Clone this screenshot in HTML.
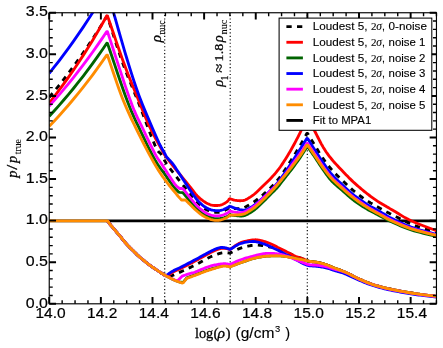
<!DOCTYPE html>
<html><head><meta charset="utf-8"><title>plot</title>
<style>html,body{margin:0;padding:0;background:#fff}svg{display:block;will-change:transform}text{font-family:"Liberation Sans",sans-serif;fill:#000;stroke:#000;stroke-width:0.12px}.s{font-family:"Liberation Serif",serif;stroke:#000;stroke-width:0.28px}.t{stroke:#000;stroke-width:0.2px}.u{stroke-width:0.1px}</style></head><body>
<svg width="443" height="348" viewBox="0 0 443 348">
<rect width="443" height="348" fill="#fff"/>
<defs><clipPath id="c"><rect x="49.24" y="12.75" width="387.21" height="291.05"/></clipPath></defs>
<g clip-path="url(#c)" fill="none" stroke-linejoin="round">
<path d="M49.24 220.80 L436.45 220.80" stroke="#000" stroke-width="2.85"/>
<path d="M164.70 304.10 L164.70 12.75" stroke="#000" stroke-width="1.15" stroke-dasharray="1.15 2.32"/>
<path d="M230.20 304.10 L230.20 12.75" stroke="#000" stroke-width="1.15" stroke-dasharray="1.15 2.32"/>
<path d="M307.30 304.10 L307.30 12.75" stroke="#000" stroke-width="1.15" stroke-dasharray="1.15 2.32"/>
<path d="M49.24 97.30 L54.07 91.50 L58.90 85.53 L63.73 79.39 L68.56 73.08 L73.39 66.60 L78.22 59.93 L83.05 53.08 L87.88 46.03 L92.71 38.78 L97.54 31.33 L102.37 23.67 L106.78 16.48 L107.45 16.56 L109.17 21.85 L111.15 28.02 L113.14 34.23 L115.12 40.41 L117.09 46.51 L119.05 52.45 L120.99 58.17 L122.90 63.60 L124.76 68.63 L126.56 73.29 L128.33 77.69 L130.09 81.95 L131.86 86.19 L133.67 90.53 L135.54 95.10 L137.50 100.00 L139.63 105.49 L141.94 111.57 L144.35 117.97 L146.78 124.42 L149.15 130.66 L151.36 136.41 L153.34 141.41 L155.00 145.40 L156.31 148.25 L157.34 150.16 L158.15 151.35 L158.81 152.04 L159.36 152.46 L159.89 152.81 L160.45 153.32 L161.10 154.20 L161.80 155.36 L162.48 156.56 L163.15 157.77 L163.80 158.99 L164.45 160.21 L165.12 161.41 L165.80 162.57 L166.50 163.70 L167.22 164.77 L167.96 165.81 L168.71 166.81 L169.46 167.79 L170.23 168.77 L171.01 169.76 L171.80 170.76 L172.60 171.80 L173.39 172.84 L174.15 173.84 L174.92 174.85 L175.70 175.87 L176.52 176.93 L177.40 178.06 L178.35 179.28 L179.40 180.60 L180.59 182.09 L181.93 183.76 L183.37 185.53 L184.85 187.36 L186.33 189.18 L187.77 190.93 L189.11 192.56 L190.30 194.00 L191.35 195.26 L192.29 196.40 L193.15 197.44 L193.96 198.39 L194.73 199.30 L195.50 200.17 L196.28 201.03 L197.10 201.90 L197.95 202.79 L198.80 203.66 L199.65 204.52 L200.51 205.35 L201.36 206.14 L202.21 206.89 L203.05 207.58 L203.90 208.20 L204.75 208.75 L205.61 209.25 L206.47 209.69 L207.33 210.08 L208.18 210.43 L209.01 210.75 L209.82 211.03 L210.60 211.30 L211.35 211.54 L212.06 211.74 L212.75 211.90 L213.43 212.03 L214.10 212.13 L214.76 212.21 L215.43 212.27 L216.10 212.30 L216.78 212.31 L217.46 212.31 L218.13 212.28 L218.81 212.22 L219.48 212.13 L220.15 212.02 L220.83 211.88 L221.50 211.70 L222.19 211.47 L222.91 211.20 L223.63 210.88 L224.35 210.54 L225.05 210.18 L225.72 209.83 L226.34 209.50 L226.90 209.20 L227.39 208.93 L227.82 208.66 L228.20 208.41 L228.55 208.17 L228.88 207.93 L229.21 207.69 L229.54 207.45 L229.72 207.32 L230.20 207.29 L230.50 207.37 L231.09 207.56 L231.66 207.74 L232.24 207.93 L232.84 208.11 L233.46 208.27 L234.11 208.40 L234.80 208.50 L235.56 208.58 L236.37 208.64 L237.23 208.68 L238.10 208.71 L238.97 208.70 L239.83 208.67 L240.64 208.60 L241.40 208.50 L242.07 208.37 L242.67 208.21 L243.22 208.03 L243.75 207.81 L244.30 207.56 L244.88 207.26 L245.54 206.91 L246.30 206.50 L247.17 206.03 L248.12 205.50 L249.13 204.91 L250.19 204.28 L251.28 203.62 L252.37 202.93 L253.45 202.22 L254.50 201.50 L255.53 200.77 L256.55 200.00 L257.57 199.22 L258.60 198.41 L259.62 197.58 L260.65 196.73 L261.68 195.87 L262.70 195.00 L263.74 194.11 L264.79 193.19 L265.85 192.25 L266.90 191.30 L267.94 190.34 L268.96 189.38 L269.95 188.43 L270.90 187.50 L271.80 186.59 L272.66 185.71 L273.48 184.84 L274.29 183.96 L275.08 183.08 L275.87 182.16 L276.68 181.21 L277.50 180.20 L278.33 179.15 L279.16 178.09 L279.99 177.00 L280.82 175.87 L281.66 174.70 L282.52 173.49 L283.40 172.22 L284.30 170.90 L285.23 169.51 L286.18 168.06 L287.15 166.56 L288.13 165.01 L289.13 163.42 L290.14 161.80 L291.17 160.16 L292.20 158.50 L293.27 156.79 L294.38 155.01 L295.51 153.19 L296.65 151.34 L297.78 149.51 L298.87 147.70 L299.92 145.96 L300.90 144.30 L301.80 142.73 L302.64 141.24 L303.44 139.79 L304.20 138.38 L304.94 136.99 L305.68 135.61 L306.43 134.22 L306.82 133.50 L307.61 133.48 L308.13 134.34 L309.05 135.87 L309.96 137.39 L310.88 138.92 L311.81 140.45 L312.75 142.01 L313.71 143.59 L314.70 145.20 L315.72 146.87 L316.77 148.60 L317.84 150.36 L318.93 152.14 L320.03 153.90 L321.12 155.63 L322.22 157.31 L323.30 158.90 L324.35 160.40 L325.38 161.82 L326.39 163.19 L327.41 164.53 L328.45 165.84 L329.53 167.16 L330.68 168.51 L331.90 169.90 L333.24 171.35 L334.68 172.86 L336.20 174.40 L337.75 175.94 L339.30 177.45 L340.82 178.92 L342.26 180.31 L343.60 181.60 L344.82 182.78 L345.97 183.89 L347.05 184.92 L348.09 185.90 L349.10 186.84 L350.12 187.76 L351.14 188.68 L352.20 189.60 L353.28 190.52 L354.37 191.43 L355.46 192.32 L356.55 193.19 L357.64 194.04 L358.73 194.88 L359.82 195.70 L360.90 196.50 L361.98 197.28 L363.06 198.05 L364.13 198.80 L365.21 199.53 L366.28 200.24 L367.35 200.94 L368.43 201.63 L369.50 202.30 L370.57 202.96 L371.65 203.59 L372.73 204.21 L373.80 204.82 L374.88 205.42 L375.95 206.01 L377.02 206.60 L378.10 207.20 L379.18 207.80 L380.26 208.40 L381.35 209.00 L382.44 209.60 L383.52 210.19 L384.59 210.77 L385.65 211.34 L386.70 211.90 L387.65 212.40 L388.47 212.84 L389.23 213.24 L390.00 213.65 L390.86 214.09 L391.88 214.61 L393.14 215.23 L394.70 216.00 L396.60 216.95 L398.77 218.06 L401.17 219.29 L403.73 220.59 L406.40 221.91 L409.13 223.20 L411.84 224.41 L414.50 225.50 L417.14 226.47 L419.83 227.37 L422.56 228.22 L425.32 229.03 L428.10 229.81 L430.88 230.59 L433.65 231.38 L436.40 232.20" stroke="#000000" stroke-width="2.85" stroke-dasharray="5.3 5.3"/>
<path d="M107.50 220.80 L108.04 221.52 L108.55 222.21 L109.06 222.89 L109.56 223.57 L110.09 224.28 L110.66 225.02 L111.29 225.82 L112.00 226.70 L112.80 227.66 L113.68 228.70 L114.61 229.80 L115.59 230.94 L116.59 232.09 L117.59 233.25 L118.57 234.39 L119.50 235.50 L120.40 236.59 L121.29 237.68 L122.16 238.77 L123.03 239.86 L123.90 240.93 L124.76 241.98 L125.63 243.01 L126.50 244.00 L127.38 244.96 L128.25 245.88 L129.12 246.78 L130.00 247.66 L130.88 248.53 L131.75 249.39 L132.62 250.24 L133.50 251.10 L134.35 251.95 L135.18 252.77 L135.99 253.59 L136.81 254.40 L137.66 255.22 L138.54 256.05 L139.48 256.91 L140.50 257.80 L141.61 258.74 L142.79 259.72 L144.03 260.72 L145.31 261.74 L146.62 262.77 L147.93 263.77 L149.23 264.76 L150.50 265.70 L151.79 266.63 L153.14 267.58 L154.51 268.52 L155.88 269.43 L157.19 270.31 L158.42 271.12 L159.54 271.86 L160.50 272.50 L161.29 273.03 L161.92 273.45 L162.44 273.78 L162.88 274.06 L163.26 274.31 L163.64 274.55 L164.04 274.80 L164.50 275.10 L168.77 276.98 L169.58 277.23 L169.66 277.16 L169.74 277.06 L169.78 276.97 L169.84 276.87 L169.97 276.74 L170.22 276.57 L170.64 276.33 L171.30 276.00 L172.20 275.58 L173.30 275.08 L174.57 274.53 L175.97 273.92 L177.46 273.27 L179.00 272.59 L180.56 271.90 L182.10 271.20 L183.66 270.48 L185.28 269.73 L186.96 268.96 L188.67 268.16 L190.41 267.34 L192.15 266.50 L193.89 265.65 L195.60 264.80 L197.31 263.91 L199.06 262.97 L200.82 261.99 L202.57 261.01 L204.30 260.05 L205.99 259.13 L207.63 258.27 L209.20 257.50 L210.72 256.80 L212.21 256.15 L213.67 255.54 L215.07 254.99 L216.42 254.48 L217.70 254.03 L218.90 253.64 L220.00 253.30 L220.99 253.04 L221.88 252.85 L222.69 252.72 L223.43 252.65 L224.11 252.61 L224.75 252.60 L225.38 252.60 L226.00 252.60 L226.60 252.61 L227.14 252.66 L227.65 252.73 L228.12 252.82 L228.59 252.92 L229.05 253.02 L229.51 253.12 L230.00 253.20 L231.23 252.59 L232.44 251.96 L233.64 251.33 L234.84 250.69 L236.07 250.08 L237.32 249.48 L238.63 248.92 L240.00 248.40 L241.46 247.91 L243.02 247.43 L244.64 246.97 L246.28 246.54 L247.92 246.15 L249.53 245.80 L251.06 245.52 L252.50 245.30 L253.84 245.16 L255.12 245.09 L256.35 245.08 L257.53 245.11 L258.68 245.18 L259.80 245.28 L260.90 245.39 L262.00 245.50 L263.07 245.62 L264.09 245.77 L265.09 245.95 L266.06 246.14 L267.03 246.34 L268.00 246.56 L268.99 246.78 L270.00 247.00 L271.04 247.22 L272.09 247.43 L273.16 247.66 L274.22 247.89 L275.30 248.13 L276.37 248.40 L277.44 248.68 L278.50 249.00 L279.55 249.35 L280.60 249.72 L281.65 250.12 L282.70 250.53 L283.75 250.96 L284.80 251.40 L285.85 251.85 L286.90 252.30 L287.96 252.76 L289.02 253.25 L290.08 253.76 L291.14 254.27 L292.21 254.78 L293.27 255.27 L294.34 255.75 L295.40 256.20 L296.49 256.62 L297.61 257.04 L298.74 257.43 L299.87 257.82 L300.97 258.19 L302.02 258.54 L303.00 258.88 L303.90 259.20 L304.67 259.50 L305.31 259.79 L305.88 260.06 L306.40 260.31 L306.92 260.55 L307.49 260.78 L308.13 261.00 L308.90 261.20 L309.80 261.38 L310.78 261.53 L311.83 261.66 L312.93 261.79 L314.06 261.91 L315.19 262.05 L316.31 262.21 L317.40 262.40 L318.47 262.62 L319.56 262.86 L320.65 263.12 L321.74 263.39 L322.82 263.68 L323.87 263.98 L324.90 264.28 L325.90 264.60 L326.82 264.92 L327.65 265.23 L328.43 265.55 L329.20 265.89 L330.00 266.24 L330.88 266.63 L331.86 267.04 L333.00 267.50 L334.30 268.00 L335.75 268.53 L337.29 269.10 L338.91 269.69 L340.58 270.31 L342.25 270.96 L343.90 271.62 L345.50 272.30 L347.06 273.01 L348.62 273.77 L350.19 274.56 L351.75 275.37 L353.31 276.18 L354.88 276.98 L356.44 277.76 L358.00 278.50 L359.56 279.21 L361.12 279.91 L362.69 280.60 L364.25 281.28 L365.81 281.93 L367.38 282.57 L368.94 283.17 L370.50 283.75 L372.06 284.30 L373.62 284.82 L375.19 285.31 L376.75 285.78 L378.31 286.24 L379.88 286.67 L381.44 287.09 L383.00 287.50 L384.56 287.89 L386.12 288.26 L387.69 288.61 L389.25 288.94 L390.81 289.26 L392.38 289.58 L393.94 289.89 L395.50 290.20 L397.06 290.51 L398.62 290.81 L400.19 291.11 L401.75 291.40 L403.31 291.68 L404.88 291.96 L406.44 292.23 L408.00 292.50 L409.54 292.76 L411.05 293.00 L412.54 293.24 L414.04 293.47 L415.56 293.71 L417.14 293.93 L418.77 294.17 L420.50 294.40 L422.32 294.64 L424.24 294.88 L426.21 295.11 L428.24 295.35 L430.29 295.59 L432.35 295.82 L434.39 296.06 L436.40 296.30" stroke="#000000" stroke-width="2.85" stroke-dasharray="5.3 5.3"/>
<path d="M49.24 103.00 L54.07 96.83 L58.90 90.47 L63.73 83.92 L68.56 77.17 L73.39 70.20 L78.22 63.03 L83.05 55.63 L87.88 48.01 L92.71 40.15 L97.54 32.05 L102.37 23.70 L106.81 15.80 L107.46 15.86 L109.32 21.25 L111.45 27.51 L113.60 33.82 L115.74 40.11 L117.87 46.30 L119.96 52.33 L122.01 58.12 L124.00 63.60 L125.94 68.79 L127.86 73.76 L129.74 78.53 L131.58 83.11 L133.38 87.53 L135.14 91.81 L136.85 95.96 L138.50 100.00 L140.06 103.86 L141.50 107.49 L142.88 110.94 L144.22 114.28 L145.56 117.54 L146.95 120.80 L148.42 124.10 L150.00 127.50 L151.71 130.98 L153.50 134.46 L155.37 137.96 L157.28 141.47 L159.22 144.98 L161.17 148.49 L163.10 152.00 L165.00 155.50 L165.95 156.74 L166.89 157.97 L167.82 159.20 L168.76 160.44 L169.71 161.67 L170.66 162.91 L171.62 164.15 L172.60 165.40 L173.59 166.64 L174.58 167.87 L175.57 169.10 L176.58 170.34 L177.60 171.59 L178.64 172.86 L179.71 174.16 L180.80 175.50 L181.94 176.91 L183.15 178.39 L184.39 179.91 L185.64 181.45 L186.88 182.98 L188.08 184.46 L189.23 185.88 L190.30 187.20 L191.28 188.43 L192.19 189.62 L193.05 190.74 L193.87 191.82 L194.67 192.86 L195.46 193.85 L196.27 194.79 L197.10 195.70 L197.95 196.56 L198.80 197.38 L199.65 198.14 L200.51 198.87 L201.36 199.55 L202.21 200.20 L203.05 200.82 L203.90 201.40 L204.75 201.95 L205.61 202.48 L206.47 202.96 L207.33 203.41 L208.18 203.82 L209.01 204.19 L209.82 204.52 L210.60 204.80 L211.35 205.03 L212.06 205.20 L212.75 205.32 L213.43 205.41 L214.10 205.46 L214.76 205.49 L215.43 205.50 L216.10 205.50 L216.78 205.50 L217.46 205.48 L218.13 205.44 L218.81 205.38 L219.48 205.29 L220.15 205.17 L220.83 205.01 L221.50 204.80 L222.19 204.54 L222.91 204.22 L223.64 203.85 L224.37 203.46 L225.07 203.04 L225.74 202.62 L226.35 202.20 L226.90 201.80 L227.37 201.41 L227.76 201.01 L228.11 200.61 L228.42 200.21 L228.71 199.81 L228.99 199.40 L229.28 199.00 L229.44 198.80 L229.92 198.70 L230.24 198.81 L230.87 199.03 L231.49 199.25 L232.11 199.47 L232.75 199.68 L233.40 199.88 L234.08 200.05 L234.80 200.20 L235.57 200.33 L236.39 200.44 L237.25 200.55 L238.12 200.63 L238.99 200.69 L239.84 200.73 L240.65 200.73 L241.40 200.70 L242.07 200.65 L242.67 200.60 L243.22 200.52 L243.75 200.42 L244.30 200.27 L244.88 200.06 L245.54 199.77 L246.30 199.40 L247.17 198.94 L248.12 198.39 L249.13 197.78 L250.19 197.11 L251.28 196.38 L252.37 195.61 L253.45 194.82 L254.50 194.00 L255.53 193.14 L256.55 192.22 L257.57 191.26 L258.60 190.26 L259.62 189.25 L260.65 188.22 L261.68 187.20 L262.70 186.20 L263.74 185.21 L264.79 184.20 L265.85 183.19 L266.90 182.18 L267.94 181.17 L268.96 180.17 L269.95 179.18 L270.90 178.20 L271.80 177.25 L272.67 176.32 L273.51 175.40 L274.33 174.49 L275.13 173.58 L275.92 172.65 L276.71 171.69 L277.50 170.70 L278.27 169.71 L279.00 168.74 L279.71 167.77 L280.43 166.77 L281.15 165.72 L281.91 164.59 L282.72 163.36 L283.60 162.00 L284.55 160.51 L285.57 158.90 L286.64 157.19 L287.74 155.41 L288.86 153.56 L289.98 151.66 L291.10 149.74 L292.20 147.80 L293.30 145.81 L294.42 143.74 L295.56 141.61 L296.69 139.45 L297.81 137.28 L298.89 135.13 L299.93 133.03 L300.90 131.00 L301.80 129.04 L302.64 127.12 L303.44 125.24 L304.20 123.39 L304.94 121.55 L305.68 119.71 L306.43 117.86 L306.89 116.74 L307.56 116.72 L308.13 117.87 L309.05 119.72 L309.96 121.56 L310.88 123.41 L311.81 125.27 L312.75 127.15 L313.71 129.06 L314.70 131.00 L315.72 133.01 L316.77 135.10 L317.84 137.24 L318.93 139.38 L320.03 141.50 L321.12 143.57 L322.22 145.55 L323.30 147.40 L324.35 149.11 L325.38 150.71 L326.39 152.23 L327.41 153.68 L328.45 155.11 L329.53 156.53 L330.68 157.99 L331.90 159.50 L333.24 161.09 L334.68 162.73 L336.20 164.39 L337.75 166.06 L339.30 167.70 L340.82 169.29 L342.26 170.80 L343.60 172.20 L344.82 173.49 L345.97 174.68 L347.05 175.80 L348.09 176.86 L349.10 177.89 L350.12 178.89 L351.14 179.89 L352.20 180.90 L353.28 181.92 L354.37 182.91 L355.46 183.90 L356.55 184.86 L357.64 185.82 L358.73 186.75 L359.82 187.68 L360.90 188.60 L361.98 189.51 L363.06 190.40 L364.13 191.28 L365.21 192.15 L366.28 193.01 L367.35 193.85 L368.43 194.68 L369.50 195.50 L370.57 196.31 L371.65 197.10 L372.73 197.89 L373.80 198.66 L374.88 199.42 L375.95 200.16 L377.02 200.89 L378.10 201.60 L379.18 202.29 L380.26 202.95 L381.34 203.59 L382.42 204.22 L383.50 204.85 L384.57 205.46 L385.64 206.08 L386.70 206.70 L387.70 207.29 L388.61 207.84 L389.49 208.36 L390.37 208.89 L391.32 209.46 L392.38 210.08 L393.59 210.78 L395.00 211.60 L396.59 212.54 L398.28 213.58 L400.10 214.70 L402.04 215.89 L404.12 217.11 L406.33 218.35 L408.69 219.59 L411.20 220.80 L413.92 222.00 L416.87 223.23 L419.99 224.46 L423.24 225.71 L426.55 226.96 L429.89 228.21 L433.19 229.46 L436.40 230.70" stroke="#ff0000" stroke-width="2.85"/>
<path d="M107.50 220.80 L108.04 221.52 L108.55 222.21 L109.06 222.89 L109.56 223.57 L110.09 224.28 L110.66 225.02 L111.29 225.82 L112.00 226.70 L112.80 227.66 L113.68 228.70 L114.61 229.80 L115.59 230.94 L116.59 232.09 L117.59 233.25 L118.57 234.39 L119.50 235.50 L120.40 236.59 L121.29 237.68 L122.16 238.77 L123.03 239.86 L123.90 240.93 L124.76 241.98 L125.63 243.01 L126.50 244.00 L127.38 244.96 L128.25 245.88 L129.12 246.78 L130.00 247.66 L130.88 248.53 L131.75 249.39 L132.62 250.24 L133.50 251.10 L134.35 251.95 L135.18 252.77 L135.99 253.59 L136.81 254.40 L137.66 255.22 L138.54 256.05 L139.48 256.91 L140.50 257.80 L141.61 258.74 L142.79 259.72 L144.03 260.72 L145.31 261.74 L146.62 262.77 L147.93 263.77 L149.23 264.76 L150.50 265.70 L151.79 266.63 L153.14 267.58 L154.51 268.52 L155.88 269.43 L157.19 270.31 L158.42 271.12 L159.54 271.86 L160.50 272.50 L161.29 273.03 L161.92 273.45 L162.44 273.78 L162.88 274.06 L163.26 274.31 L163.64 274.55 L164.04 274.80 L164.50 275.10 L166.27 275.88 L167.40 275.92 L167.81 275.64 L168.58 275.07 L169.35 274.51 L170.12 273.94 L170.91 273.38 L171.75 272.82 L172.64 272.26 L173.60 271.70 L174.62 271.16 L175.68 270.66 L176.77 270.16 L177.92 269.66 L179.12 269.14 L180.38 268.59 L181.70 267.98 L183.10 267.30 L184.61 266.53 L186.25 265.69 L187.98 264.79 L189.76 263.85 L191.55 262.90 L193.31 261.96 L195.01 261.05 L196.60 260.20 L198.12 259.38 L199.61 258.56 L201.07 257.75 L202.49 256.96 L203.85 256.20 L205.15 255.48 L206.37 254.81 L207.50 254.20 L208.52 253.65 L209.42 253.17 L210.24 252.73 L210.99 252.33 L211.72 251.96 L212.44 251.61 L213.19 251.26 L214.00 250.90 L214.86 250.53 L215.76 250.16 L216.68 249.79 L217.59 249.44 L218.50 249.11 L219.38 248.82 L220.22 248.58 L221.00 248.40 L221.73 248.28 L222.41 248.22 L223.07 248.21 L223.69 248.23 L224.29 248.28 L224.87 248.35 L225.44 248.43 L226.00 248.50 L226.55 248.58 L227.07 248.69 L227.57 248.81 L228.06 248.94 L228.54 249.09 L229.02 249.23 L229.51 249.37 L230.00 249.50 L231.23 248.66 L232.44 247.79 L233.64 246.91 L234.84 246.03 L236.07 245.18 L237.32 244.38 L238.63 243.65 L240.00 243.00 L241.48 242.43 L243.07 241.92 L244.72 241.47 L246.41 241.07 L248.07 240.72 L249.67 240.43 L251.16 240.19 L252.50 240.00 L253.66 239.87 L254.67 239.80 L255.57 239.78 L256.41 239.82 L257.22 239.90 L258.07 240.03 L258.98 240.20 L260.00 240.40 L261.14 240.65 L262.36 240.96 L263.63 241.32 L264.94 241.71 L266.25 242.14 L267.55 242.58 L268.80 243.04 L270.00 243.50 L271.13 243.97 L272.23 244.47 L273.30 244.99 L274.35 245.53 L275.39 246.08 L276.42 246.62 L277.45 247.17 L278.50 247.70 L279.55 248.22 L280.60 248.75 L281.65 249.27 L282.70 249.79 L283.75 250.32 L284.80 250.84 L285.85 251.37 L286.90 251.90 L287.96 252.44 L289.02 253.00 L290.08 253.56 L291.14 254.12 L292.21 254.68 L293.27 255.21 L294.34 255.72 L295.40 256.20 L296.49 256.64 L297.61 257.06 L298.74 257.46 L299.87 257.84 L300.97 258.21 L302.02 258.55 L303.00 258.88 L303.90 259.20 L304.67 259.50 L305.31 259.79 L305.88 260.06 L306.40 260.31 L306.92 260.55 L307.49 260.78 L308.13 261.00 L308.90 261.20 L309.80 261.38 L310.78 261.53 L311.83 261.66 L312.93 261.79 L314.06 261.91 L315.19 262.05 L316.31 262.21 L317.40 262.40 L318.47 262.62 L319.56 262.86 L320.65 263.12 L321.74 263.39 L322.82 263.68 L323.87 263.98 L324.90 264.28 L325.90 264.60 L326.82 264.92 L327.65 265.23 L328.43 265.55 L329.20 265.89 L330.00 266.24 L330.88 266.63 L331.86 267.04 L333.00 267.50 L334.30 268.00 L335.75 268.53 L337.29 269.10 L338.91 269.69 L340.58 270.31 L342.25 270.96 L343.90 271.62 L345.50 272.30 L347.06 273.01 L348.62 273.77 L350.19 274.56 L351.75 275.37 L353.31 276.18 L354.88 276.98 L356.44 277.76 L358.00 278.50 L359.56 279.21 L361.12 279.91 L362.69 280.60 L364.25 281.28 L365.81 281.93 L367.38 282.57 L368.94 283.17 L370.50 283.75 L372.06 284.30 L373.62 284.82 L375.19 285.31 L376.75 285.78 L378.31 286.24 L379.88 286.67 L381.44 287.09 L383.00 287.50 L384.56 287.89 L386.12 288.26 L387.69 288.61 L389.25 288.94 L390.81 289.26 L392.38 289.58 L393.94 289.89 L395.50 290.20 L397.06 290.51 L398.62 290.81 L400.19 291.11 L401.75 291.40 L403.31 291.68 L404.88 291.96 L406.44 292.23 L408.00 292.50 L409.54 292.76 L411.05 293.00 L412.54 293.24 L414.04 293.47 L415.56 293.71 L417.14 293.93 L418.77 294.17 L420.50 294.40 L422.32 294.64 L424.24 294.88 L426.21 295.11 L428.24 295.35 L430.29 295.59 L432.35 295.82 L434.39 296.06 L436.40 296.30" stroke="#ff0000" stroke-width="2.85"/>
<path d="M49.24 116.25 L54.07 111.00 L58.90 105.60 L63.73 100.06 L68.56 94.36 L73.39 88.49 L78.22 82.47 L83.05 76.27 L87.88 69.90 L92.71 63.36 L97.54 56.63 L102.37 49.71 L106.75 43.26 L107.46 43.36 L109.75 50.08 L112.36 57.82 L115.00 65.66 L117.62 73.45 L120.19 81.03 L122.69 88.26 L125.07 94.96 L127.30 101.00 L129.36 106.30 L131.28 110.98 L133.09 115.16 L134.81 118.97 L136.49 122.53 L138.14 125.98 L139.80 129.42 L141.50 133.00 L143.24 136.69 L145.01 140.37 L146.77 144.00 L148.51 147.54 L150.22 150.94 L151.89 154.16 L153.48 157.16 L155.00 159.90 L156.43 162.34 L157.80 164.50 L159.11 166.44 L160.37 168.21 L161.58 169.84 L162.75 171.41 L163.89 172.94 L165.00 174.50 L166.08 176.06 L167.12 177.58 L168.12 179.03 L169.08 180.42 L170.01 181.75 L170.90 183.01 L171.77 184.20 L172.60 185.30 L173.42 186.33 L174.22 187.30 L175.00 188.20 L175.74 189.03 L176.43 189.77 L177.06 190.44 L177.62 191.01 L178.10 191.50 L178.47 191.86 L178.74 192.08 L178.93 192.20 L179.06 192.24 L179.16 192.24 L179.25 192.23 L179.35 192.24 L179.50 192.30 L182.90 192.60 L183.83 193.71 L184.76 194.84 L185.70 195.97 L186.64 197.10 L187.57 198.22 L188.49 199.31 L189.40 200.38 L190.30 201.40 L191.18 202.39 L192.04 203.35 L192.89 204.28 L193.74 205.19 L194.58 206.08 L195.41 206.94 L196.25 207.78 L197.10 208.60 L197.95 209.40 L198.80 210.19 L199.65 210.96 L200.51 211.71 L201.36 212.42 L202.21 213.09 L203.05 213.72 L203.90 214.30 L204.75 214.82 L205.61 215.30 L206.47 215.73 L207.33 216.13 L208.18 216.48 L209.01 216.81 L209.82 217.12 L210.60 217.40 L211.35 217.66 L212.06 217.89 L212.75 218.09 L213.43 218.27 L214.10 218.42 L214.76 218.54 L215.43 218.63 L216.10 218.70 L216.78 218.74 L217.46 218.75 L218.13 218.73 L218.81 218.69 L219.48 218.62 L220.15 218.53 L220.83 218.42 L221.50 218.30 L222.19 218.15 L222.91 217.97 L223.63 217.76 L224.35 217.54 L225.05 217.30 L225.72 217.06 L226.34 216.83 L226.90 216.60 L227.39 216.38 L227.82 216.16 L228.20 215.93 L228.55 215.71 L228.88 215.48 L229.21 215.25 L229.54 215.03 L229.90 214.80 L230.50 214.89 L231.09 214.98 L231.66 215.07 L232.24 215.16 L232.84 215.25 L233.46 215.34 L234.11 215.42 L234.80 215.50 L235.56 215.58 L236.37 215.68 L237.23 215.78 L238.10 215.87 L238.97 215.95 L239.83 216.00 L240.64 216.02 L241.40 216.00 L242.07 215.96 L242.67 215.91 L243.22 215.84 L243.75 215.74 L244.30 215.60 L244.88 215.41 L245.54 215.14 L246.30 214.80 L247.17 214.37 L248.12 213.88 L249.13 213.31 L250.19 212.69 L251.28 212.03 L252.37 211.31 L253.45 210.57 L254.50 209.80 L255.53 208.99 L256.55 208.12 L257.57 207.21 L258.60 206.26 L259.62 205.28 L260.65 204.29 L261.68 203.29 L262.70 202.30 L263.74 201.29 L264.79 200.24 L265.85 199.18 L266.90 198.10 L267.94 197.03 L268.96 195.98 L269.95 194.97 L270.90 194.00 L271.80 193.09 L272.67 192.24 L273.51 191.42 L274.33 190.62 L275.13 189.82 L275.92 189.01 L276.71 188.18 L277.50 187.30 L278.27 186.40 L279.00 185.50 L279.71 184.59 L280.43 183.66 L281.15 182.70 L281.91 181.69 L282.72 180.63 L283.60 179.50 L284.55 178.29 L285.57 177.02 L286.64 175.70 L287.74 174.32 L288.86 172.92 L289.98 171.49 L291.10 170.05 L292.20 168.60 L293.30 167.12 L294.42 165.59 L295.56 164.02 L296.69 162.44 L297.81 160.86 L298.89 159.32 L299.93 157.82 L300.90 156.40 L301.80 155.05 L302.64 153.76 L303.44 152.52 L304.20 151.31 L304.94 150.11 L305.68 148.92 L306.43 147.72 L307.20 146.50 L307.20 146.30 L307.65 146.76 L308.13 147.45 L309.05 148.78 L309.96 150.10 L310.88 151.42 L311.81 152.76 L312.75 154.13 L313.71 155.54 L314.70 157.00 L315.72 158.54 L316.77 160.14 L317.84 161.80 L318.93 163.48 L320.03 165.16 L321.12 166.83 L322.22 168.45 L323.30 170.00 L324.35 171.49 L325.38 172.95 L326.39 174.37 L327.41 175.76 L328.45 177.14 L329.53 178.50 L330.68 179.85 L331.90 181.20 L333.24 182.56 L334.68 183.92 L336.20 185.29 L337.75 186.63 L339.30 187.95 L340.82 189.22 L342.26 190.44 L343.60 191.60 L344.82 192.69 L345.97 193.71 L347.05 194.68 L348.09 195.61 L349.10 196.51 L350.12 197.38 L351.14 198.24 L352.20 199.10 L353.28 199.94 L354.37 200.76 L355.46 201.56 L356.55 202.34 L357.64 203.11 L358.73 203.85 L359.82 204.58 L360.90 205.30 L361.98 206.00 L363.06 206.69 L364.13 207.36 L365.21 208.01 L366.28 208.65 L367.35 209.28 L368.43 209.90 L369.50 210.50 L370.54 211.07 L371.54 211.60 L372.52 212.10 L373.51 212.59 L374.53 213.10 L375.62 213.64 L376.80 214.24 L378.10 214.90 L379.49 215.63 L380.94 216.42 L382.46 217.25 L384.05 218.12 L385.73 219.01 L387.51 219.93 L389.39 220.86 L391.40 221.80 L393.53 222.77 L395.77 223.78 L398.11 224.82 L400.56 225.88 L403.09 226.93 L405.72 227.96 L408.42 228.96 L411.20 229.90 L414.09 230.79 L417.12 231.64 L420.25 232.45 L423.46 233.25 L426.71 234.03 L429.97 234.81 L433.21 235.60 L436.40 236.40" stroke="#006400" stroke-width="2.85"/>
<path d="M107.50 220.80 L108.04 221.52 L108.55 222.21 L109.06 222.89 L109.56 223.57 L110.09 224.28 L110.66 225.02 L111.29 225.82 L112.00 226.70 L112.80 227.66 L113.68 228.70 L114.61 229.80 L115.59 230.94 L116.59 232.09 L117.59 233.25 L118.57 234.39 L119.50 235.50 L120.40 236.59 L121.29 237.68 L122.16 238.77 L123.03 239.86 L123.90 240.93 L124.76 241.98 L125.63 243.01 L126.50 244.00 L127.38 244.96 L128.25 245.88 L129.12 246.78 L130.00 247.66 L130.88 248.53 L131.75 249.39 L132.62 250.24 L133.50 251.10 L134.35 251.95 L135.18 252.77 L135.99 253.59 L136.81 254.40 L137.66 255.22 L138.54 256.05 L139.48 256.91 L140.50 257.80 L141.61 258.74 L142.79 259.72 L144.03 260.72 L145.31 261.74 L146.62 262.77 L147.93 263.77 L149.23 264.76 L150.50 265.70 L151.79 266.63 L153.14 267.58 L154.51 268.52 L155.88 269.43 L157.19 270.31 L158.42 271.12 L159.54 271.86 L160.50 272.50 L161.29 273.03 L161.92 273.45 L162.44 273.78 L162.88 274.06 L163.26 274.31 L163.64 274.55 L164.04 274.80 L164.50 275.10 L165.87 275.80 L167.28 276.53 L168.70 277.27 L170.11 278.00 L171.49 278.71 L172.83 279.38 L174.11 279.98 L175.30 280.50 L176.40 280.93 L177.41 281.27 L178.35 281.56 L179.26 281.80 L180.13 282.02 L181.00 282.22 L181.89 282.45 L182.34 282.57 L183.31 282.09 L186.80 277.90 L187.89 277.49 L188.95 277.09 L190.01 276.70 L191.07 276.30 L192.15 275.90 L193.25 275.48 L194.40 275.05 L195.60 274.60 L196.88 274.12 L198.23 273.60 L199.64 273.06 L201.07 272.51 L202.50 271.97 L203.89 271.45 L205.24 270.95 L206.50 270.50 L207.68 270.09 L208.82 269.71 L209.91 269.36 L210.96 269.02 L211.99 268.70 L213.00 268.40 L214.00 268.10 L215.00 267.80 L216.01 267.50 L217.02 267.19 L218.02 266.89 L219.00 266.60 L219.95 266.34 L220.86 266.10 L221.71 265.90 L222.50 265.75 L223.22 265.65 L223.87 265.60 L224.47 265.59 L225.03 265.60 L225.55 265.64 L226.05 265.69 L226.53 265.75 L227.00 265.80 L227.45 265.86 L227.86 265.93 L228.23 266.01 L228.59 266.11 L228.94 266.21 L229.29 266.31 L229.64 266.41 L230.00 266.50 L231.23 266.07 L232.44 265.64 L233.64 265.22 L234.84 264.80 L236.07 264.37 L237.32 263.93 L238.63 263.47 L240.00 263.00 L241.46 262.49 L243.01 261.94 L244.61 261.37 L246.25 260.79 L247.89 260.22 L249.49 259.68 L251.04 259.19 L252.50 258.75 L253.89 258.37 L255.23 258.03 L256.54 257.72 L257.81 257.45 L259.04 257.20 L260.23 256.98 L261.39 256.78 L262.50 256.60 L263.55 256.45 L264.53 256.33 L265.45 256.24 L266.34 256.18 L267.22 256.13 L268.11 256.09 L269.03 256.05 L270.00 256.00 L271.02 255.95 L272.06 255.90 L273.12 255.85 L274.19 255.81 L275.28 255.78 L276.36 255.76 L277.44 255.77 L278.50 255.80 L279.55 255.85 L280.60 255.93 L281.65 256.02 L282.70 256.13 L283.75 256.26 L284.80 256.39 L285.85 256.54 L286.90 256.70 L287.96 256.87 L289.02 257.07 L290.08 257.28 L291.14 257.50 L292.21 257.73 L293.27 257.96 L294.34 258.18 L295.40 258.40 L296.49 258.62 L297.61 258.84 L298.74 259.06 L299.87 259.29 L300.97 259.51 L302.02 259.72 L303.00 259.92 L303.90 260.10 L304.67 260.27 L305.31 260.41 L305.88 260.55 L306.40 260.68 L306.92 260.81 L307.49 260.93 L308.13 261.06 L308.90 261.20 L309.80 261.34 L310.78 261.47 L311.83 261.60 L312.93 261.73 L314.06 261.87 L315.19 262.03 L316.31 262.20 L317.40 262.40 L318.47 262.62 L319.56 262.86 L320.65 263.12 L321.74 263.39 L322.82 263.68 L323.87 263.98 L324.90 264.28 L325.90 264.60 L326.82 264.92 L327.65 265.23 L328.43 265.55 L329.20 265.89 L330.00 266.24 L330.88 266.63 L331.86 267.04 L333.00 267.50 L334.30 268.00 L335.75 268.53 L337.29 269.10 L338.91 269.69 L340.58 270.31 L342.25 270.96 L343.90 271.62 L345.50 272.30 L347.06 273.01 L348.62 273.77 L350.19 274.56 L351.75 275.37 L353.31 276.18 L354.88 276.98 L356.44 277.76 L358.00 278.50 L359.56 279.21 L361.12 279.91 L362.69 280.60 L364.25 281.28 L365.81 281.93 L367.38 282.57 L368.94 283.17 L370.50 283.75 L372.06 284.30 L373.62 284.82 L375.19 285.31 L376.75 285.78 L378.31 286.24 L379.88 286.67 L381.44 287.09 L383.00 287.50 L384.56 287.89 L386.12 288.26 L387.69 288.61 L389.25 288.94 L390.81 289.26 L392.38 289.58 L393.94 289.89 L395.50 290.20 L397.06 290.51 L398.62 290.81 L400.19 291.11 L401.75 291.40 L403.31 291.68 L404.88 291.96 L406.44 292.23 L408.00 292.50 L409.54 292.76 L411.05 293.00 L412.54 293.24 L414.04 293.47 L415.56 293.71 L417.14 293.93 L418.77 294.17 L420.50 294.40 L422.32 294.64 L424.24 294.88 L426.21 295.11 L428.24 295.35 L430.29 295.59 L432.35 295.82 L434.39 296.06 L436.40 296.30" stroke="#006400" stroke-width="2.85"/>
<path d="M49.24 73.30 L54.07 67.23 L58.90 61.01 L63.73 54.62 L68.56 48.06 L73.39 41.33 L78.22 34.43 L83.05 27.34 L87.88 20.06 L92.71 12.60 L97.54 4.94 L102.37 -2.93 L106.79 -10.31 L107.41 -10.23 L107.94 -8.21 L108.60 -5.68 L109.23 -3.26 L109.88 -0.79 L110.58 1.90 L111.41 4.95 L112.40 8.53 L113.60 12.80 L115.07 17.96 L116.77 23.94 L118.64 30.51 L120.63 37.41 L122.66 44.42 L124.68 51.28 L126.61 57.75 L128.40 63.60 L130.03 68.81 L131.54 73.63 L132.99 78.15 L134.41 82.48 L135.85 86.72 L137.35 90.98 L138.95 95.38 L140.70 100.00 L142.67 105.01 L144.85 110.37 L147.17 115.90 L149.53 121.43 L151.85 126.78 L154.04 131.78 L156.02 136.24 L157.70 140.00 L159.09 143.02 L160.29 145.47 L161.31 147.44 L162.18 149.03 L162.93 150.33 L163.59 151.45 L164.19 152.47 L164.75 153.50 L165.22 154.42 L165.56 155.08 L165.79 155.54 L165.96 155.88 L166.08 156.13 L166.19 156.36 L166.32 156.63 L166.50 157.00 L167.27 157.81 L168.04 158.61 L168.81 159.40 L169.59 160.20 L170.36 161.01 L171.12 161.84 L171.87 162.70 L172.60 163.60 L173.32 164.55 L174.02 165.54 L174.71 166.56 L175.39 167.60 L176.07 168.65 L176.75 169.71 L177.42 170.76 L178.10 171.80 L178.77 172.81 L179.42 173.80 L180.07 174.78 L180.72 175.76 L181.38 176.76 L182.05 177.80 L182.76 178.87 L183.50 180.00 L184.28 181.20 L185.10 182.47 L185.95 183.78 L186.81 185.12 L187.69 186.48 L188.57 187.82 L189.44 189.13 L190.30 190.40 L191.15 191.64 L192.00 192.89 L192.85 194.13 L193.70 195.35 L194.55 196.54 L195.40 197.68 L196.25 198.78 L197.10 199.80 L197.95 200.76 L198.80 201.68 L199.65 202.55 L200.51 203.38 L201.36 204.15 L202.21 204.88 L203.05 205.56 L203.90 206.20 L204.75 206.78 L205.61 207.32 L206.47 207.80 L207.33 208.24 L208.18 208.63 L209.01 208.99 L209.82 209.31 L210.60 209.60 L211.35 209.85 L212.06 210.05 L212.75 210.21 L213.43 210.34 L214.10 210.43 L214.76 210.50 L215.43 210.56 L216.10 210.60 L216.78 210.63 L217.46 210.64 L218.13 210.64 L218.81 210.61 L219.48 210.55 L220.15 210.47 L220.83 210.35 L221.50 210.20 L222.19 210.00 L222.91 209.74 L223.64 209.45 L224.37 209.12 L225.07 208.79 L225.74 208.47 L226.35 208.17 L226.90 207.90 L227.37 207.67 L227.76 207.45 L228.11 207.25 L228.42 207.06 L228.71 206.87 L228.99 206.68 L229.28 206.50 L229.60 206.30 L230.24 206.51 L230.87 206.72 L231.49 206.93 L232.11 207.14 L232.75 207.35 L233.40 207.56 L234.08 207.78 L234.80 208.00 L235.57 208.24 L236.39 208.51 L237.25 208.79 L238.12 209.08 L238.99 209.34 L239.84 209.57 L240.65 209.77 L241.40 209.90 L242.07 210.00 L242.67 210.08 L243.22 210.14 L243.75 210.16 L244.30 210.12 L244.88 210.03 L245.54 209.86 L246.30 209.60 L247.17 209.25 L248.12 208.81 L249.13 208.30 L250.19 207.72 L251.28 207.09 L252.37 206.42 L253.45 205.72 L254.50 205.00 L255.53 204.25 L256.55 203.44 L257.57 202.59 L258.60 201.71 L259.62 200.80 L260.65 199.88 L261.68 198.94 L262.70 198.00 L263.74 197.04 L264.79 196.05 L265.85 195.03 L266.90 194.00 L267.94 192.97 L268.96 191.95 L269.95 190.96 L270.90 190.00 L271.80 189.10 L272.64 188.26 L273.45 187.45 L274.24 186.65 L275.03 185.83 L275.82 184.97 L276.64 184.03 L277.50 183.00 L278.40 181.87 L279.32 180.65 L280.26 179.38 L281.21 178.05 L282.17 176.69 L283.12 175.32 L284.07 173.95 L285.00 172.60 L285.90 171.27 L286.79 169.96 L287.66 168.64 L288.53 167.31 L289.40 165.95 L290.30 164.55 L291.23 163.11 L292.20 161.60 L293.23 159.99 L294.33 158.28 L295.46 156.50 L296.61 154.69 L297.75 152.89 L298.86 151.13 L299.92 149.45 L300.90 147.90 L301.80 146.47 L302.64 145.14 L303.44 143.88 L304.20 142.67 L304.94 141.49 L305.68 140.31 L306.43 139.12 L306.81 138.51 L307.63 138.58 L308.13 139.37 L309.05 140.82 L309.96 142.26 L310.88 143.71 L311.81 145.17 L312.75 146.65 L313.71 148.16 L314.70 149.70 L315.72 151.29 L316.77 152.94 L317.84 154.62 L318.93 156.31 L320.03 158.01 L321.12 159.68 L322.22 161.32 L323.30 162.90 L324.35 164.43 L325.38 165.91 L326.39 167.37 L327.41 168.81 L328.45 170.23 L329.53 171.64 L330.68 173.07 L331.90 174.50 L333.24 175.97 L334.68 177.47 L336.20 178.98 L337.75 180.49 L339.30 181.96 L340.82 183.39 L342.26 184.74 L343.60 186.00 L344.82 187.16 L345.97 188.24 L347.05 189.26 L348.09 190.22 L349.10 191.14 L350.12 192.04 L351.14 192.92 L352.20 193.80 L353.28 194.67 L354.37 195.51 L355.46 196.33 L356.55 197.13 L357.64 197.91 L358.73 198.68 L359.82 199.44 L360.90 200.20 L361.98 200.95 L363.06 201.70 L364.13 202.44 L365.21 203.16 L366.28 203.87 L367.35 204.57 L368.43 205.24 L369.50 205.90 L370.54 206.51 L371.54 207.05 L372.52 207.57 L373.51 208.08 L374.53 208.60 L375.62 209.16 L376.80 209.78 L378.10 210.50 L379.49 211.31 L380.94 212.18 L382.46 213.10 L384.05 214.07 L385.73 215.08 L387.51 216.11 L389.39 217.15 L391.40 218.20 L393.53 219.28 L395.77 220.40 L398.11 221.56 L400.56 222.73 L403.09 223.90 L405.72 225.05 L408.42 226.15 L411.20 227.20 L414.09 228.19 L417.12 229.13 L420.25 230.03 L423.46 230.91 L426.71 231.78 L429.97 232.64 L433.21 233.51 L436.40 234.40" stroke="#0000ff" stroke-width="2.85"/>
<path d="M107.50 220.80 L108.04 221.52 L108.55 222.21 L109.06 222.89 L109.56 223.57 L110.09 224.28 L110.66 225.02 L111.29 225.82 L112.00 226.70 L112.80 227.66 L113.68 228.70 L114.61 229.80 L115.59 230.94 L116.59 232.09 L117.59 233.25 L118.57 234.39 L119.50 235.50 L120.40 236.59 L121.29 237.68 L122.16 238.77 L123.03 239.86 L123.90 240.93 L124.76 241.98 L125.63 243.01 L126.50 244.00 L127.38 244.96 L128.25 245.88 L129.12 246.78 L130.00 247.66 L130.88 248.53 L131.75 249.39 L132.62 250.24 L133.50 251.10 L134.35 251.95 L135.18 252.77 L135.99 253.59 L136.81 254.40 L137.66 255.22 L138.54 256.05 L139.48 256.91 L140.50 257.80 L141.61 258.74 L142.79 259.72 L144.03 260.72 L145.31 261.74 L146.62 262.77 L147.93 263.77 L149.23 264.76 L150.50 265.70 L151.79 266.63 L153.14 267.58 L154.51 268.52 L155.88 269.43 L157.19 270.31 L158.42 271.12 L159.54 271.86 L160.50 272.50 L161.29 273.03 L161.92 273.45 L162.44 273.78 L162.88 274.06 L163.26 274.31 L163.64 274.55 L164.04 274.80 L164.50 275.10 L165.28 275.46 L166.40 275.51 L166.81 275.23 L167.58 274.65 L168.35 274.07 L169.12 273.50 L169.91 272.93 L170.75 272.35 L171.64 271.78 L172.60 271.20 L173.62 270.64 L174.68 270.11 L175.77 269.58 L176.92 269.06 L178.12 268.51 L179.38 267.93 L180.70 267.29 L182.10 266.60 L183.61 265.82 L185.25 264.97 L186.98 264.07 L188.76 263.13 L190.55 262.18 L192.31 261.25 L194.01 260.35 L195.60 259.50 L197.12 258.69 L198.61 257.88 L200.07 257.09 L201.49 256.32 L202.85 255.58 L204.15 254.87 L205.37 254.21 L206.50 253.60 L207.52 253.05 L208.42 252.56 L209.24 252.11 L209.99 251.69 L210.72 251.31 L211.44 250.94 L212.19 250.57 L213.00 250.20 L213.86 249.82 L214.74 249.42 L215.63 249.03 L216.53 248.66 L217.43 248.32 L218.31 248.02 L219.17 247.78 L220.00 247.60 L220.81 247.50 L221.62 247.46 L222.41 247.48 L223.19 247.54 L223.94 247.64 L224.66 247.75 L225.35 247.88 L226.00 248.00 L226.60 248.13 L227.14 248.30 L227.65 248.48 L228.12 248.68 L228.59 248.89 L229.05 249.10 L229.51 249.30 L229.76 249.40 L230.62 249.13 L231.23 248.76 L232.44 247.98 L233.64 247.19 L234.84 246.41 L236.07 245.65 L237.32 244.94 L238.63 244.30 L240.00 243.75 L241.46 243.27 L243.01 242.84 L244.61 242.46 L246.25 242.14 L247.89 241.88 L249.49 241.68 L251.04 241.55 L252.50 241.50 L253.89 241.54 L255.23 241.68 L256.54 241.89 L257.81 242.17 L259.04 242.49 L260.23 242.83 L261.39 243.17 L262.50 243.50 L263.55 243.82 L264.53 244.15 L265.45 244.50 L266.34 244.87 L267.22 245.25 L268.11 245.65 L269.03 246.07 L270.00 246.50 L271.02 246.96 L272.06 247.44 L273.12 247.94 L274.19 248.46 L275.28 248.99 L276.36 249.53 L277.44 250.07 L278.50 250.60 L279.55 251.14 L280.60 251.68 L281.65 252.23 L282.70 252.78 L283.75 253.34 L284.80 253.89 L285.85 254.45 L286.90 255.00 L287.96 255.55 L289.02 256.10 L290.08 256.65 L291.14 257.19 L292.21 257.74 L293.27 258.29 L294.34 258.85 L295.40 259.40 L296.49 259.98 L297.61 260.58 L298.74 261.20 L299.87 261.82 L300.97 262.41 L302.02 262.97 L303.00 263.47 L303.90 263.90 L304.67 264.25 L305.31 264.54 L305.88 264.78 L306.40 264.98 L306.92 265.15 L307.49 265.30 L308.13 265.45 L308.90 265.60 L309.80 265.74 L310.78 265.85 L311.83 265.94 L312.93 266.02 L314.06 266.10 L315.19 266.18 L316.31 266.28 L317.40 266.40 L318.46 266.54 L319.53 266.68 L320.59 266.83 L321.66 266.99 L322.72 267.16 L323.78 267.35 L324.84 267.56 L325.90 267.80 L326.94 268.06 L327.95 268.35 L328.96 268.65 L329.96 268.98 L330.99 269.31 L332.04 269.67 L333.14 270.03 L334.30 270.40 L335.51 270.77 L336.76 271.14 L338.04 271.51 L339.36 271.89 L340.72 272.31 L342.11 272.76 L343.54 273.25 L345.00 273.80 L346.52 274.42 L348.10 275.12 L349.73 275.87 L351.39 276.65 L353.06 277.44 L354.73 278.23 L356.38 278.99 L358.00 279.70 L359.59 280.38 L361.16 281.04 L362.72 281.70 L364.28 282.34 L365.83 282.96 L367.39 283.56 L368.94 284.14 L370.50 284.70 L372.06 285.23 L373.62 285.74 L375.19 286.23 L376.75 286.69 L378.31 287.14 L379.88 287.58 L381.44 287.99 L383.00 288.40 L384.56 288.79 L386.12 289.15 L387.69 289.50 L389.25 289.84 L390.81 290.16 L392.38 290.48 L393.94 290.79 L395.50 291.10 L397.06 291.41 L398.62 291.71 L400.19 292.01 L401.75 292.31 L403.31 292.59 L404.88 292.87 L406.44 293.14 L408.00 293.40 L409.54 293.65 L411.05 293.88 L412.54 294.11 L414.04 294.32 L415.56 294.54 L417.14 294.75 L418.77 294.97 L420.50 295.20 L422.32 295.43 L424.24 295.67 L426.21 295.91 L428.24 296.14 L430.29 296.38 L432.35 296.62 L434.39 296.86 L436.40 297.10" stroke="#0000ff" stroke-width="2.85"/>
<path d="M49.24 106.00 L54.07 100.62 L58.90 95.10 L63.73 89.43 L68.56 83.60 L73.39 77.61 L78.22 71.46 L83.05 65.15 L87.88 58.66 L92.71 52.00 L97.54 45.15 L102.37 38.12 L106.76 31.56 L107.45 31.66 L110.17 39.89 L113.25 49.29 L116.37 58.85 L119.46 68.33 L122.48 77.49 L125.35 86.08 L128.01 93.86 L130.40 100.60 L132.49 106.15 L134.31 110.69 L135.93 114.43 L137.40 117.61 L138.78 120.43 L140.14 123.12 L141.53 125.90 L143.00 129.00 L144.56 132.37 L146.16 135.79 L147.77 139.19 L149.36 142.52 L150.91 145.71 L152.38 148.69 L153.75 151.41 L155.00 153.80 L156.10 155.80 L157.07 157.43 L157.94 158.79 L158.73 159.95 L159.49 161.00 L160.23 162.02 L160.99 163.09 L161.80 164.30 L162.64 165.61 L163.48 166.92 L164.32 168.22 L165.15 169.53 L165.98 170.83 L166.82 172.13 L167.66 173.42 L168.50 174.70 L169.36 176.01 L170.25 177.37 L171.16 178.75 L172.06 180.11 L172.94 181.42 L173.78 182.65 L174.57 183.75 L175.30 184.70 L175.95 185.47 L176.53 186.09 L177.07 186.58 L177.56 186.99 L178.04 187.35 L178.51 187.70 L178.99 188.07 L179.50 188.50 L182.10 188.50 L183.36 189.10 L183.83 189.70 L184.76 190.91 L185.70 192.13 L186.64 193.35 L187.57 194.55 L188.49 195.74 L189.40 196.89 L190.30 198.00 L191.18 199.08 L192.04 200.14 L192.89 201.18 L193.74 202.19 L194.58 203.17 L195.41 204.12 L196.25 205.03 L197.10 205.90 L197.95 206.73 L198.80 207.53 L199.65 208.30 L200.51 209.03 L201.36 209.73 L202.21 210.39 L203.05 211.01 L203.90 211.60 L204.75 212.15 L205.61 212.67 L206.47 213.15 L207.33 213.60 L208.18 214.01 L209.01 214.38 L209.82 214.71 L210.60 215.00 L211.35 215.24 L212.06 215.43 L212.75 215.58 L213.43 215.69 L214.10 215.77 L214.76 215.83 L215.43 215.87 L216.10 215.90 L216.78 215.92 L217.46 215.91 L218.13 215.89 L218.81 215.84 L219.48 215.77 L220.15 215.67 L220.83 215.55 L221.50 215.40 L222.19 215.22 L222.91 214.99 L223.63 214.74 L224.35 214.46 L225.05 214.17 L225.72 213.88 L226.34 213.58 L226.90 213.30 L227.39 213.02 L227.82 212.74 L228.20 212.45 L228.55 212.16 L228.88 211.87 L229.21 211.58 L229.54 211.29 L229.72 211.14 L230.20 211.08 L230.50 211.16 L231.09 211.32 L231.66 211.49 L232.24 211.66 L232.84 211.82 L233.46 211.96 L234.11 212.09 L234.80 212.20 L235.56 212.29 L236.37 212.38 L237.23 212.46 L238.10 212.52 L238.97 212.56 L239.83 212.57 L240.64 212.55 L241.40 212.50 L242.07 212.42 L242.67 212.33 L243.22 212.22 L243.75 212.08 L244.30 211.90 L244.88 211.66 L245.54 211.37 L246.30 211.00 L247.17 210.56 L248.12 210.05 L249.13 209.49 L250.19 208.87 L251.28 208.20 L252.37 207.50 L253.45 206.76 L254.50 206.00 L255.53 205.20 L256.55 204.34 L257.57 203.44 L258.60 202.50 L259.62 201.54 L260.65 200.56 L261.68 199.58 L262.70 198.60 L263.74 197.60 L264.79 196.57 L265.85 195.51 L266.90 194.44 L267.94 193.39 L268.96 192.35 L269.95 191.35 L270.90 190.40 L271.80 189.52 L272.64 188.72 L273.45 187.95 L274.24 187.21 L275.03 186.45 L275.82 185.67 L276.64 184.83 L277.50 183.90 L278.40 182.90 L279.32 181.84 L280.26 180.73 L281.21 179.59 L282.17 178.41 L283.12 177.22 L284.07 176.01 L285.00 174.80 L285.90 173.58 L286.79 172.35 L287.66 171.10 L288.53 169.83 L289.40 168.53 L290.30 167.22 L291.23 165.87 L292.20 164.50 L293.23 163.07 L294.33 161.59 L295.46 160.06 L296.61 158.52 L297.75 156.98 L298.86 155.46 L299.92 154.00 L300.90 152.60 L301.80 151.27 L302.64 150.00 L303.44 148.77 L304.20 147.57 L304.94 146.38 L305.68 145.20 L306.43 144.01 L306.81 143.41 L307.65 143.46 L308.13 144.19 L309.05 145.56 L309.96 146.93 L310.88 148.30 L311.81 149.68 L312.75 151.09 L313.71 152.52 L314.70 154.00 L315.72 155.54 L316.77 157.13 L317.84 158.76 L318.93 160.41 L320.03 162.06 L321.12 163.69 L322.22 165.28 L323.30 166.80 L324.35 168.26 L325.38 169.68 L326.39 171.07 L327.41 172.43 L328.45 173.77 L329.53 175.11 L330.68 176.45 L331.90 177.80 L333.24 179.18 L334.68 180.59 L336.20 182.01 L337.75 183.42 L339.30 184.80 L340.82 186.14 L342.26 187.41 L343.60 188.60 L344.82 189.70 L345.97 190.73 L347.05 191.70 L348.09 192.62 L349.10 193.51 L350.12 194.38 L351.14 195.24 L352.20 196.10 L353.28 196.96 L354.37 197.80 L355.46 198.62 L356.55 199.42 L357.64 200.21 L358.73 200.98 L359.82 201.75 L360.90 202.50 L361.98 203.24 L363.06 203.97 L364.13 204.69 L365.21 205.40 L366.28 206.09 L367.35 206.78 L368.43 207.44 L369.50 208.10 L370.54 208.72 L371.54 209.30 L372.52 209.86 L373.51 210.41 L374.53 210.97 L375.62 211.56 L376.80 212.20 L378.10 212.90 L379.49 213.67 L380.94 214.49 L382.46 215.34 L384.05 216.23 L385.73 217.15 L387.51 218.09 L389.39 219.04 L391.40 220.00 L393.53 220.99 L395.77 222.03 L398.11 223.09 L400.56 224.17 L403.09 225.24 L405.72 226.30 L408.42 227.33 L411.20 228.30 L414.09 229.22 L417.12 230.11 L420.25 230.96 L423.46 231.79 L426.71 232.62 L429.97 233.44 L433.21 234.26 L436.40 235.10" stroke="#ff00ff" stroke-width="2.85"/>
<path d="M107.50 220.80 L108.04 221.52 L108.55 222.21 L109.06 222.89 L109.56 223.57 L110.09 224.28 L110.66 225.02 L111.29 225.82 L112.00 226.70 L112.80 227.66 L113.68 228.70 L114.61 229.80 L115.59 230.94 L116.59 232.09 L117.59 233.25 L118.57 234.39 L119.50 235.50 L120.40 236.59 L121.29 237.68 L122.16 238.77 L123.03 239.86 L123.90 240.93 L124.76 241.98 L125.63 243.01 L126.50 244.00 L127.38 244.96 L128.25 245.88 L129.12 246.78 L130.00 247.66 L130.88 248.53 L131.75 249.39 L132.62 250.24 L133.50 251.10 L134.35 251.95 L135.18 252.77 L135.99 253.59 L136.81 254.40 L137.66 255.22 L138.54 256.05 L139.48 256.91 L140.50 257.80 L141.61 258.74 L142.79 259.72 L144.03 260.72 L145.31 261.74 L146.62 262.77 L147.93 263.77 L149.23 264.76 L150.50 265.70 L151.79 266.63 L153.14 267.58 L154.51 268.52 L155.88 269.43 L157.19 270.31 L158.42 271.12 L159.54 271.86 L160.50 272.50 L161.29 273.03 L161.92 273.45 L162.44 273.78 L162.88 274.06 L163.26 274.31 L163.64 274.55 L164.04 274.80 L164.50 275.10 L165.91 275.78 L167.40 276.51 L168.93 277.26 L170.44 277.99 L171.88 278.69 L173.20 279.33 L174.36 279.87 L175.30 280.30 L175.99 280.59 L176.45 280.76 L176.75 280.83 L176.94 280.84 L177.05 280.82 L177.15 280.79 L177.28 280.77 L177.39 280.78 L178.07 280.23 L182.10 276.20 L182.95 275.90 L183.80 275.59 L184.65 275.28 L185.51 274.97 L186.36 274.66 L187.21 274.36 L188.05 274.08 L188.90 273.80 L189.71 273.56 L190.48 273.35 L191.24 273.17 L191.99 272.98 L192.78 272.78 L193.63 272.55 L194.56 272.26 L195.60 271.90 L196.78 271.45 L198.09 270.91 L199.49 270.31 L200.94 269.68 L202.40 269.05 L203.85 268.44 L205.22 267.88 L206.50 267.40 L207.68 266.99 L208.82 266.62 L209.91 266.29 L210.96 265.99 L211.99 265.72 L213.00 265.47 L214.00 265.23 L215.00 265.00 L216.01 264.78 L217.02 264.59 L218.02 264.40 L219.00 264.24 L219.95 264.10 L220.86 263.98 L221.71 263.88 L222.50 263.80 L223.22 263.75 L223.87 263.72 L224.47 263.72 L225.03 263.73 L225.55 263.76 L226.05 263.80 L226.53 263.85 L227.00 263.90 L227.45 263.96 L227.86 264.03 L228.23 264.12 L228.59 264.21 L228.94 264.31 L229.29 264.41 L229.64 264.51 L229.82 264.55 L230.00 264.55 L230.00 264.55 L230.62 264.22 L231.23 263.93 L232.44 263.36 L233.64 262.78 L234.84 262.20 L236.07 261.63 L237.32 261.07 L238.63 260.53 L240.00 260.00 L241.46 259.49 L243.01 258.98 L244.61 258.48 L246.25 257.99 L247.89 257.52 L249.49 257.07 L251.04 256.65 L252.50 256.25 L253.89 255.88 L255.23 255.52 L256.54 255.19 L257.81 254.88 L259.04 254.59 L260.23 254.33 L261.39 254.10 L262.50 253.90 L263.55 253.73 L264.53 253.60 L265.45 253.49 L266.34 253.41 L267.22 253.35 L268.11 253.32 L269.03 253.30 L270.00 253.30 L271.02 253.32 L272.06 253.35 L273.12 253.40 L274.19 253.48 L275.28 253.57 L276.36 253.69 L277.44 253.83 L278.50 254.00 L279.55 254.20 L280.60 254.42 L281.65 254.67 L282.70 254.94 L283.75 255.23 L284.80 255.54 L285.85 255.86 L286.90 256.20 L287.96 256.56 L289.02 256.95 L290.08 257.35 L291.14 257.77 L292.21 258.21 L293.27 258.64 L294.34 259.08 L295.40 259.50 L296.49 259.93 L297.61 260.38 L298.74 260.84 L299.87 261.30 L300.97 261.75 L302.02 262.17 L303.00 262.56 L303.90 262.90 L304.67 263.20 L305.31 263.47 L305.88 263.71 L306.40 263.92 L306.92 264.11 L307.49 264.29 L308.13 264.45 L308.90 264.60 L309.80 264.73 L310.78 264.83 L311.83 264.91 L312.93 264.98 L314.06 265.04 L315.19 265.11 L316.31 265.19 L317.40 265.30 L318.46 265.42 L319.53 265.55 L320.59 265.69 L321.66 265.83 L322.72 265.99 L323.78 266.17 L324.84 266.37 L325.90 266.60 L326.94 266.86 L327.94 267.14 L328.93 267.45 L329.93 267.78 L330.95 268.12 L332.01 268.47 L333.12 268.84 L334.30 269.20 L335.56 269.55 L336.87 269.90 L338.24 270.24 L339.64 270.60 L341.08 270.99 L342.54 271.41 L344.02 271.90 L345.50 272.45 L347.00 273.09 L348.53 273.81 L350.09 274.60 L351.67 275.42 L353.26 276.26 L354.84 277.10 L356.43 277.90 L358.00 278.65 L359.56 279.36 L361.12 280.06 L362.69 280.75 L364.25 281.43 L365.81 282.08 L367.38 282.72 L368.94 283.32 L370.50 283.90 L372.06 284.45 L373.62 284.97 L375.19 285.46 L376.75 285.93 L378.31 286.39 L379.88 286.82 L381.44 287.24 L383.00 287.65 L384.56 288.04 L386.12 288.41 L387.69 288.76 L389.25 289.09 L390.81 289.41 L392.38 289.73 L393.94 290.04 L395.50 290.35 L397.06 290.66 L398.62 290.96 L400.19 291.26 L401.75 291.55 L403.31 291.83 L404.88 292.11 L406.44 292.38 L408.00 292.65 L409.54 292.91 L411.05 293.15 L412.54 293.39 L414.04 293.62 L415.56 293.86 L417.14 294.08 L418.77 294.32 L420.50 294.55 L422.32 294.79 L424.24 295.02 L426.21 295.26 L428.24 295.50 L430.29 295.74 L432.35 295.98 L434.39 296.21 L436.40 296.45" stroke="#ff00ff" stroke-width="2.85"/>
<path d="M49.24 126.25 L54.07 121.16 L58.90 115.92 L63.73 110.53 L68.56 104.98 L73.39 99.28 L78.22 93.41 L83.05 87.38 L87.88 81.17 L92.71 74.78 L97.54 68.21 L102.37 61.45 L106.74 55.16 L107.46 55.26 L109.18 60.25 L111.15 66.09 L113.12 71.96 L115.09 77.82 L117.06 83.60 L119.05 89.26 L121.06 94.75 L123.10 100.00 L125.18 105.04 L127.30 109.93 L129.45 114.68 L131.61 119.28 L133.76 123.75 L135.89 128.09 L137.97 132.30 L140.00 136.40 L142.00 140.41 L144.00 144.33 L145.98 148.15 L147.93 151.83 L149.82 155.34 L151.65 158.66 L153.38 161.75 L155.00 164.60 L156.48 167.12 L157.81 169.32 L159.04 171.27 L160.20 173.04 L161.34 174.70 L162.49 176.33 L163.70 178.01 L165.00 179.80 L166.44 181.73 L167.99 183.75 L169.61 185.79 L171.23 187.81 L172.82 189.76 L174.31 191.57 L175.65 193.20 L176.80 194.60 L177.73 195.72 L178.47 196.61 L179.08 197.31 L179.59 197.89 L180.05 198.39 L180.49 198.87 L180.96 199.39 L181.50 200.00 L185.60 200.00 L186.17 200.59 L186.73 201.16 L187.27 201.73 L187.82 202.29 L188.38 202.88 L188.98 203.48 L189.61 204.12 L190.30 204.80 L191.05 205.54 L191.85 206.34 L192.70 207.18 L193.57 208.04 L194.46 208.90 L195.35 209.74 L196.24 210.55 L197.10 211.30 L197.95 212.01 L198.80 212.70 L199.65 213.37 L200.51 214.02 L201.36 214.64 L202.21 215.23 L203.05 215.78 L203.90 216.30 L204.75 216.78 L205.61 217.24 L206.47 217.65 L207.33 218.04 L208.18 218.40 L209.01 218.73 L209.82 219.03 L210.60 219.30 L211.35 219.54 L212.06 219.75 L212.75 219.93 L213.43 220.08 L214.10 220.20 L214.76 220.30 L215.43 220.36 L216.10 220.40 L216.78 220.41 L217.46 220.39 L218.13 220.34 L218.81 220.26 L219.48 220.16 L220.15 220.03 L220.83 219.88 L221.50 219.70 L222.19 219.49 L222.91 219.24 L223.63 218.95 L224.35 218.64 L225.05 218.33 L225.72 218.01 L226.34 217.69 L226.90 217.40 L227.39 217.12 L227.82 216.84 L228.20 216.57 L228.55 216.29 L228.88 216.02 L229.21 215.75 L229.54 215.47 L229.90 215.20 L230.50 215.18 L231.09 215.16 L231.66 215.14 L232.24 215.12 L232.84 215.10 L233.46 215.07 L234.11 215.04 L234.80 215.00 L235.56 214.96 L236.37 214.92 L237.23 214.88 L238.10 214.84 L238.97 214.78 L239.83 214.71 L240.64 214.62 L241.40 214.50 L242.07 214.38 L242.67 214.26 L243.22 214.14 L243.75 214.00 L244.30 213.82 L244.88 213.59 L245.54 213.28 L246.30 212.90 L247.17 212.43 L248.12 211.88 L249.13 211.28 L250.19 210.61 L251.28 209.90 L252.37 209.16 L253.45 208.39 L254.50 207.60 L255.53 206.78 L256.55 205.92 L257.57 205.01 L258.60 204.08 L259.62 203.13 L260.65 202.16 L261.68 201.18 L262.70 200.20 L263.74 199.21 L264.79 198.19 L265.85 197.15 L266.90 196.10 L267.94 195.05 L268.96 194.01 L269.95 192.99 L270.90 192.00 L271.80 191.04 L272.67 190.10 L273.51 189.18 L274.33 188.26 L275.13 187.35 L275.92 186.45 L276.71 185.53 L277.50 184.60 L278.27 183.68 L279.00 182.78 L279.71 181.90 L280.43 181.00 L281.15 180.08 L281.91 179.12 L282.72 178.09 L283.60 177.00 L284.55 175.83 L285.57 174.59 L286.64 173.30 L287.74 171.96 L288.86 170.59 L289.98 169.20 L291.10 167.80 L292.20 166.40 L293.30 164.97 L294.42 163.49 L295.56 161.99 L296.69 160.47 L297.81 158.95 L298.89 157.46 L299.93 156.00 L300.90 154.60 L301.80 153.26 L302.64 151.96 L303.44 150.69 L304.20 149.44 L304.94 148.21 L305.68 146.99 L306.43 145.75 L306.81 145.13 L307.65 145.16 L308.13 145.86 L309.05 147.21 L309.96 148.55 L310.88 149.90 L311.81 151.26 L312.75 152.64 L313.71 154.05 L314.70 155.50 L315.72 157.01 L316.77 158.58 L317.84 160.19 L318.93 161.82 L320.03 163.44 L321.12 165.05 L322.22 166.60 L323.30 168.10 L324.35 169.53 L325.38 170.91 L326.39 172.25 L327.41 173.57 L328.45 174.87 L329.53 176.17 L330.68 177.48 L331.90 178.80 L333.24 180.16 L334.68 181.55 L336.20 182.96 L337.75 184.36 L339.30 185.73 L340.82 187.06 L342.26 188.32 L343.60 189.50 L344.82 190.59 L345.97 191.61 L347.05 192.56 L348.09 193.47 L349.10 194.34 L350.12 195.20 L351.14 196.05 L352.20 196.90 L353.28 197.75 L354.37 198.59 L355.46 199.41 L356.55 200.22 L357.64 201.01 L358.73 201.79 L359.82 202.55 L360.90 203.30 L361.98 204.04 L363.06 204.75 L364.13 205.46 L365.21 206.15 L366.28 206.83 L367.35 207.50 L368.43 208.15 L369.50 208.80 L370.54 209.42 L371.54 209.99 L372.52 210.55 L373.51 211.09 L374.53 211.65 L375.62 212.25 L376.80 212.89 L378.10 213.60 L379.49 214.38 L380.94 215.21 L382.46 216.09 L384.05 217.00 L385.73 217.94 L387.51 218.89 L389.39 219.85 L391.40 220.80 L393.53 221.77 L395.77 222.77 L398.11 223.80 L400.56 224.83 L403.09 225.86 L405.72 226.87 L408.42 227.86 L411.20 228.80 L414.09 229.70 L417.12 230.57 L420.25 231.41 L423.46 232.23 L426.71 233.04 L429.97 233.86 L433.21 234.67 L436.40 235.50" stroke="#ff8c00" stroke-width="2.85"/>
<path d="M49.24 220.80 L106.70 220.80 L107.77 221.16 L108.04 221.52 L108.55 222.21 L109.06 222.89 L109.56 223.57 L110.09 224.28 L110.66 225.02 L111.29 225.82 L112.00 226.70 L112.80 227.66 L113.68 228.70 L114.61 229.80 L115.59 230.94 L116.59 232.09 L117.59 233.25 L118.57 234.39 L119.50 235.50 L120.40 236.59 L121.29 237.68 L122.16 238.77 L123.03 239.86 L123.90 240.93 L124.76 241.98 L125.63 243.01 L126.50 244.00 L127.38 244.96 L128.25 245.88 L129.12 246.78 L130.00 247.66 L130.88 248.53 L131.75 249.39 L132.62 250.24 L133.50 251.10 L134.35 251.95 L135.18 252.77 L135.99 253.59 L136.81 254.40 L137.66 255.22 L138.54 256.05 L139.48 256.91 L140.50 257.80 L141.61 258.74 L142.79 259.72 L144.03 260.72 L145.31 261.74 L146.62 262.77 L147.93 263.77 L149.23 264.76 L150.50 265.70 L151.79 266.63 L153.14 267.58 L154.51 268.52 L155.88 269.43 L157.19 270.31 L158.42 271.12 L159.54 271.86 L160.50 272.50 L161.29 273.03 L161.92 273.45 L162.44 273.78 L162.88 274.06 L163.26 274.31 L163.64 274.55 L164.04 274.80 L164.50 275.10 L165.87 275.79 L167.28 276.51 L168.70 277.24 L170.11 277.97 L171.49 278.67 L172.83 279.34 L174.11 279.95 L175.30 280.50 L176.40 280.97 L177.41 281.36 L178.35 281.71 L179.26 282.02 L180.13 282.31 L181.00 282.59 L181.89 282.88 L182.34 283.04 L183.31 282.59 L186.80 278.40 L187.89 277.99 L188.95 277.59 L190.01 277.20 L191.07 276.80 L192.15 276.40 L193.25 275.98 L194.40 275.55 L195.60 275.10 L196.88 274.62 L198.23 274.10 L199.64 273.56 L201.07 273.01 L202.50 272.47 L203.89 271.95 L205.24 271.45 L206.50 271.00 L207.68 270.59 L208.82 270.21 L209.91 269.86 L210.96 269.52 L211.99 269.20 L213.00 268.90 L214.00 268.60 L215.00 268.30 L216.01 268.00 L217.02 267.69 L218.02 267.39 L219.00 267.10 L219.95 266.84 L220.86 266.60 L221.71 266.40 L222.50 266.25 L223.22 266.15 L223.87 266.10 L224.47 266.09 L225.03 266.10 L225.55 266.14 L226.05 266.19 L226.53 266.25 L227.00 266.30 L227.45 266.36 L227.86 266.43 L228.23 266.51 L228.59 266.61 L228.94 266.71 L229.29 266.81 L229.64 266.91 L230.00 267.00 L231.23 266.50 L232.44 266.01 L233.64 265.51 L234.84 265.02 L236.07 264.52 L237.32 264.02 L238.63 263.51 L240.00 263.00 L241.46 262.47 L243.01 261.91 L244.61 261.33 L246.25 260.76 L247.89 260.20 L249.49 259.67 L251.04 259.18 L252.50 258.75 L253.89 258.37 L255.23 258.03 L256.54 257.72 L257.81 257.45 L259.04 257.20 L260.23 256.98 L261.39 256.78 L262.50 256.60 L263.55 256.45 L264.53 256.33 L265.45 256.24 L266.34 256.18 L267.22 256.13 L268.11 256.09 L269.03 256.05 L270.00 256.00 L271.02 255.95 L272.06 255.90 L273.12 255.85 L274.19 255.81 L275.28 255.78 L276.36 255.76 L277.44 255.77 L278.50 255.80 L279.55 255.85 L280.60 255.93 L281.65 256.02 L282.70 256.13 L283.75 256.26 L284.80 256.39 L285.85 256.54 L286.90 256.70 L287.96 256.87 L289.02 257.07 L290.08 257.28 L291.14 257.50 L292.21 257.73 L293.27 257.96 L294.34 258.18 L295.40 258.40 L296.49 258.62 L297.61 258.84 L298.74 259.06 L299.87 259.29 L300.97 259.51 L302.02 259.72 L303.00 259.92 L303.90 260.10 L304.67 260.27 L305.31 260.41 L305.88 260.55 L306.40 260.68 L306.92 260.81 L307.49 260.93 L308.13 261.06 L308.90 261.20 L309.80 261.34 L310.78 261.47 L311.83 261.60 L312.93 261.73 L314.06 261.87 L315.19 262.03 L316.31 262.20 L317.40 262.40 L318.47 262.62 L319.56 262.86 L320.65 263.12 L321.74 263.39 L322.82 263.68 L323.87 263.98 L324.90 264.28 L325.90 264.60 L326.82 264.92 L327.65 265.23 L328.43 265.55 L329.20 265.89 L330.00 266.24 L330.88 266.63 L331.86 267.04 L333.00 267.50 L334.30 268.00 L335.75 268.53 L337.29 269.10 L338.91 269.69 L340.58 270.31 L342.25 270.96 L343.90 271.62 L345.50 272.30 L347.06 273.01 L348.62 273.77 L350.19 274.56 L351.75 275.37 L353.31 276.18 L354.88 276.98 L356.44 277.76 L358.00 278.50 L359.56 279.21 L361.12 279.91 L362.69 280.60 L364.25 281.28 L365.81 281.93 L367.38 282.57 L368.94 283.17 L370.50 283.75 L372.06 284.30 L373.62 284.82 L375.19 285.31 L376.75 285.78 L378.31 286.24 L379.88 286.67 L381.44 287.09 L383.00 287.50 L384.56 287.89 L386.12 288.26 L387.69 288.61 L389.25 288.94 L390.81 289.26 L392.38 289.58 L393.94 289.89 L395.50 290.20 L397.06 290.51 L398.62 290.81 L400.19 291.11 L401.75 291.40 L403.31 291.68 L404.88 291.96 L406.44 292.23 L408.00 292.50 L409.54 292.76 L411.05 293.00 L412.54 293.24 L414.04 293.47 L415.56 293.71 L417.14 293.93 L418.77 294.17 L420.50 294.40 L422.32 294.64 L424.24 294.88 L426.21 295.11 L428.24 295.35 L430.29 295.59 L432.35 295.82 L434.39 296.06 L436.40 296.30" stroke="#ff8c00" stroke-width="2.85"/>
</g>
<rect x="49.24" y="12.75" width="387.21" height="291.05" fill="none" stroke="#000" stroke-width="1.15"/>
<g stroke="#000" fill="none"><path d="M49.24 303.80 v-6.80 M49.24 12.75 v6.80" stroke-width="1.95"/><path d="M62.15 303.80 v-3.50 M62.15 12.75 v3.50" stroke-width="1.40"/><path d="M75.05 303.80 v-3.50 M75.05 12.75 v3.50" stroke-width="1.40"/><path d="M87.96 303.80 v-3.50 M87.96 12.75 v3.50" stroke-width="1.40"/><path d="M100.87 303.80 v-6.80 M100.87 12.75 v6.80" stroke-width="1.95"/><path d="M113.78 303.80 v-3.50 M113.78 12.75 v3.50" stroke-width="1.40"/><path d="M126.68 303.80 v-3.50 M126.68 12.75 v3.50" stroke-width="1.40"/><path d="M139.59 303.80 v-3.50 M139.59 12.75 v3.50" stroke-width="1.40"/><path d="M152.50 303.80 v-6.80 M152.50 12.75 v6.80" stroke-width="1.95"/><path d="M165.40 303.80 v-3.50 M165.40 12.75 v3.50" stroke-width="1.40"/><path d="M178.31 303.80 v-3.50 M178.31 12.75 v3.50" stroke-width="1.40"/><path d="M191.22 303.80 v-3.50 M191.22 12.75 v3.50" stroke-width="1.40"/><path d="M204.12 303.80 v-6.80 M204.12 12.75 v6.80" stroke-width="1.95"/><path d="M217.03 303.80 v-3.50 M217.03 12.75 v3.50" stroke-width="1.40"/><path d="M229.94 303.80 v-3.50 M229.94 12.75 v3.50" stroke-width="1.40"/><path d="M242.84 303.80 v-3.50 M242.84 12.75 v3.50" stroke-width="1.40"/><path d="M255.75 303.80 v-6.80 M255.75 12.75 v6.80" stroke-width="1.95"/><path d="M268.66 303.80 v-3.50 M268.66 12.75 v3.50" stroke-width="1.40"/><path d="M281.57 303.80 v-3.50 M281.57 12.75 v3.50" stroke-width="1.40"/><path d="M294.47 303.80 v-3.50 M294.47 12.75 v3.50" stroke-width="1.40"/><path d="M307.38 303.80 v-6.80 M307.38 12.75 v6.80" stroke-width="1.95"/><path d="M320.29 303.80 v-3.50 M320.29 12.75 v3.50" stroke-width="1.40"/><path d="M333.19 303.80 v-3.50 M333.19 12.75 v3.50" stroke-width="1.40"/><path d="M346.10 303.80 v-3.50 M346.10 12.75 v3.50" stroke-width="1.40"/><path d="M359.01 303.80 v-6.80 M359.01 12.75 v6.80" stroke-width="1.95"/><path d="M371.91 303.80 v-3.50 M371.91 12.75 v3.50" stroke-width="1.40"/><path d="M384.82 303.80 v-3.50 M384.82 12.75 v3.50" stroke-width="1.40"/><path d="M397.73 303.80 v-3.50 M397.73 12.75 v3.50" stroke-width="1.40"/><path d="M410.64 303.80 v-6.80 M410.64 12.75 v6.80" stroke-width="1.95"/><path d="M423.54 303.80 v-3.50 M423.54 12.75 v3.50" stroke-width="1.40"/><path d="M436.45 303.80 v-3.50 M436.45 12.75 v3.50" stroke-width="1.40"/><path d="M49.24 303.80 h6.80 M436.45 303.80 h-6.80" stroke-width="1.95"/><path d="M49.24 295.48 h3.50 M436.45 295.48 h-3.50" stroke-width="1.40"/><path d="M49.24 287.17 h3.50 M436.45 287.17 h-3.50" stroke-width="1.40"/><path d="M49.24 278.85 h3.50 M436.45 278.85 h-3.50" stroke-width="1.40"/><path d="M49.24 270.54 h3.50 M436.45 270.54 h-3.50" stroke-width="1.40"/><path d="M49.24 262.22 h6.80 M436.45 262.22 h-6.80" stroke-width="1.95"/><path d="M49.24 253.91 h3.50 M436.45 253.91 h-3.50" stroke-width="1.40"/><path d="M49.24 245.59 h3.50 M436.45 245.59 h-3.50" stroke-width="1.40"/><path d="M49.24 237.27 h3.50 M436.45 237.27 h-3.50" stroke-width="1.40"/><path d="M49.24 228.96 h3.50 M436.45 228.96 h-3.50" stroke-width="1.40"/><path d="M49.24 220.64 h6.80 M436.45 220.64 h-6.80" stroke-width="1.95"/><path d="M49.24 212.33 h3.50 M436.45 212.33 h-3.50" stroke-width="1.40"/><path d="M49.24 204.01 h3.50 M436.45 204.01 h-3.50" stroke-width="1.40"/><path d="M49.24 195.70 h3.50 M436.45 195.70 h-3.50" stroke-width="1.40"/><path d="M49.24 187.38 h3.50 M436.45 187.38 h-3.50" stroke-width="1.40"/><path d="M49.24 179.06 h6.80 M436.45 179.06 h-6.80" stroke-width="1.95"/><path d="M49.24 170.75 h3.50 M436.45 170.75 h-3.50" stroke-width="1.40"/><path d="M49.24 162.43 h3.50 M436.45 162.43 h-3.50" stroke-width="1.40"/><path d="M49.24 154.12 h3.50 M436.45 154.12 h-3.50" stroke-width="1.40"/><path d="M49.24 145.80 h3.50 M436.45 145.80 h-3.50" stroke-width="1.40"/><path d="M49.24 137.49 h6.80 M436.45 137.49 h-6.80" stroke-width="1.95"/><path d="M49.24 129.17 h3.50 M436.45 129.17 h-3.50" stroke-width="1.40"/><path d="M49.24 120.85 h3.50 M436.45 120.85 h-3.50" stroke-width="1.40"/><path d="M49.24 112.54 h3.50 M436.45 112.54 h-3.50" stroke-width="1.40"/><path d="M49.24 104.22 h3.50 M436.45 104.22 h-3.50" stroke-width="1.40"/><path d="M49.24 95.91 h6.80 M436.45 95.91 h-6.80" stroke-width="1.95"/><path d="M49.24 87.59 h3.50 M436.45 87.59 h-3.50" stroke-width="1.40"/><path d="M49.24 79.28 h3.50 M436.45 79.28 h-3.50" stroke-width="1.40"/><path d="M49.24 70.96 h3.50 M436.45 70.96 h-3.50" stroke-width="1.40"/><path d="M49.24 62.64 h3.50 M436.45 62.64 h-3.50" stroke-width="1.40"/><path d="M49.24 54.33 h6.80 M436.45 54.33 h-6.80" stroke-width="1.95"/><path d="M49.24 46.01 h3.50 M436.45 46.01 h-3.50" stroke-width="1.40"/><path d="M49.24 37.70 h3.50 M436.45 37.70 h-3.50" stroke-width="1.40"/><path d="M49.24 29.38 h3.50 M436.45 29.38 h-3.50" stroke-width="1.40"/><path d="M49.24 21.07 h3.50 M436.45 21.07 h-3.50" stroke-width="1.40"/><path d="M49.24 12.75 h6.80 M436.45 12.75 h-6.80" stroke-width="1.95"/></g>
<text class="t" x="50.54" y="318.2" font-size="15.0" text-anchor="middle" textLength="30.2" lengthAdjust="spacingAndGlyphs">14.0</text>
<text class="t" x="102.17" y="318.2" font-size="15.0" text-anchor="middle" textLength="30.2" lengthAdjust="spacingAndGlyphs">14.2</text>
<text class="t" x="153.80" y="318.2" font-size="15.0" text-anchor="middle" textLength="30.2" lengthAdjust="spacingAndGlyphs">14.4</text>
<text class="t" x="205.42" y="318.2" font-size="15.0" text-anchor="middle" textLength="30.2" lengthAdjust="spacingAndGlyphs">14.6</text>
<text class="t" x="257.05" y="318.2" font-size="15.0" text-anchor="middle" textLength="30.2" lengthAdjust="spacingAndGlyphs">14.8</text>
<text class="t" x="308.68" y="318.2" font-size="15.0" text-anchor="middle" textLength="30.2" lengthAdjust="spacingAndGlyphs">15.0</text>
<text class="t" x="360.31" y="318.2" font-size="15.0" text-anchor="middle" textLength="30.2" lengthAdjust="spacingAndGlyphs">15.2</text>
<text class="t" x="411.94" y="318.2" font-size="15.0" text-anchor="middle" textLength="30.2" lengthAdjust="spacingAndGlyphs">15.4</text>
<text class="t" x="48.0" y="307.50" font-size="15.0" text-anchor="end" textLength="22.2" lengthAdjust="spacingAndGlyphs">0.0</text>
<text class="t" x="48.0" y="265.92" font-size="15.0" text-anchor="end" textLength="22.2" lengthAdjust="spacingAndGlyphs">0.5</text>
<text class="t" x="48.0" y="224.34" font-size="15.0" text-anchor="end" textLength="22.2" lengthAdjust="spacingAndGlyphs">1.0</text>
<text class="t" x="48.0" y="182.76" font-size="15.0" text-anchor="end" textLength="22.2" lengthAdjust="spacingAndGlyphs">1.5</text>
<text class="t" x="48.0" y="141.19" font-size="15.0" text-anchor="end" textLength="22.2" lengthAdjust="spacingAndGlyphs">2.0</text>
<text class="t" x="48.0" y="99.61" font-size="15.0" text-anchor="end" textLength="22.2" lengthAdjust="spacingAndGlyphs">2.5</text>
<text class="t" x="48.0" y="58.03" font-size="15.0" text-anchor="end" textLength="22.2" lengthAdjust="spacingAndGlyphs">3.0</text>
<text class="t" x="48.0" y="16.45" font-size="15.0" text-anchor="end" textLength="22.2" lengthAdjust="spacingAndGlyphs">3.5</text>
<text class="s" x="194.9" y="337.9" font-size="15.2" textLength="18.4" lengthAdjust="spacingAndGlyphs">log</text>
<text class="s" x="213.4" y="337.9" font-size="15.2">(</text>
<text class="s" x="217.6" y="337.9" font-size="15.6" font-style="italic">ρ</text>
<text class="s" x="225.6" y="337.9" font-size="15.2">)</text>
<text x="235.5" y="337.5" font-size="14.6" textLength="38.9" lengthAdjust="spacingAndGlyphs">(g/cm</text>
<text x="275.0" y="332.4" font-size="9.4">3</text>
<text x="285.2" y="337.5" font-size="14.6">)</text>
<g transform="translate(16.6,178.3) rotate(-90)"><text class="s" x="0.6" y="0" font-size="14.4" font-style="italic">p</text><text class="s" x="8.6" y="0" font-size="14.4" textLength="5" lengthAdjust="spacingAndGlyphs">/</text><text class="s" x="15.2" y="0" font-size="14.4" font-style="italic">p</text><text class="s u" x="24.0" y="4.4" font-size="9.8">true</text></g>
<g transform="translate(160.7,42.6) rotate(-90)"><text class="s" x="0.3" y="0" font-size="14.2" font-style="italic" textLength="7.2" lengthAdjust="spacingAndGlyphs">ρ</text><text class="s" x="7.8" y="4.2" font-size="10.2" textLength="14.6" style="stroke-width:0.12px" lengthAdjust="spacingAndGlyphs">nuc</text></g>
<g transform="translate(223.3,87.0) rotate(-90)"><text class="s" x="0.3" y="0" font-size="14.2" font-style="italic" textLength="7.0" lengthAdjust="spacingAndGlyphs">ρ</text><text class="s" x="6.8" y="4.3" font-size="9.4">1</text><text class="s" x="14.2" y="0.3" font-size="15.4" textLength="9.0" lengthAdjust="spacingAndGlyphs">≈</text><text class="s" x="25.6" y="0" font-size="13.4" textLength="17.6" lengthAdjust="spacingAndGlyphs">1.8</text><text class="s" x="44.8" y="0" font-size="14.2" font-style="italic" textLength="7.0" lengthAdjust="spacingAndGlyphs">ρ</text><text class="s" x="52.6" y="4.1" font-size="10.2" textLength="14.8" style="stroke-width:0.12px" lengthAdjust="spacingAndGlyphs">nuc</text></g>
<rect x="279.1" y="18.1" width="152.7" height="112.2" fill="#fff" stroke="#000" stroke-width="1.05"/>
<path d="M286.4 26.65 H302.9" stroke="#000000" stroke-width="2.85" fill="none" stroke-dasharray="5.3 5.3"/>
<text x="312.8" y="30.35" font-size="10.6" textLength="54.6" lengthAdjust="spacingAndGlyphs">Loudest 5,</text>
<text class="s u" x="370.9" y="30.35" font-size="11.0">2</text><text class="s u" x="376.3" y="30.35" font-size="11.6" font-style="italic" textLength="5.7" lengthAdjust="spacingAndGlyphs">σ</text>
<text x="381.9" y="30.35" font-size="10.6">,</text>
<text x="388.6" y="30.35" font-size="10.6" textLength="38.4" lengthAdjust="spacingAndGlyphs">0-noise</text>
<path d="M286.4 42.28 H302.9" stroke="#ff0000" stroke-width="2.85" fill="none"/>
<text x="312.8" y="45.98" font-size="10.6" textLength="54.6" lengthAdjust="spacingAndGlyphs">Loudest 5,</text>
<text class="s u" x="370.9" y="45.98" font-size="11.0">2</text><text class="s u" x="376.3" y="45.98" font-size="11.6" font-style="italic" textLength="5.7" lengthAdjust="spacingAndGlyphs">σ</text>
<text x="381.9" y="45.98" font-size="10.6">,</text>
<text x="388.6" y="45.98" font-size="10.6" textLength="36.8" lengthAdjust="spacingAndGlyphs">noise 1</text>
<path d="M286.4 57.91 H302.9" stroke="#006400" stroke-width="2.85" fill="none"/>
<text x="312.8" y="61.61" font-size="10.6" textLength="54.6" lengthAdjust="spacingAndGlyphs">Loudest 5,</text>
<text class="s u" x="370.9" y="61.61" font-size="11.0">2</text><text class="s u" x="376.3" y="61.61" font-size="11.6" font-style="italic" textLength="5.7" lengthAdjust="spacingAndGlyphs">σ</text>
<text x="381.9" y="61.61" font-size="10.6">,</text>
<text x="388.6" y="61.61" font-size="10.6" textLength="36.8" lengthAdjust="spacingAndGlyphs">noise 2</text>
<path d="M286.4 73.54 H302.9" stroke="#0000ff" stroke-width="2.85" fill="none"/>
<text x="312.8" y="77.24" font-size="10.6" textLength="54.6" lengthAdjust="spacingAndGlyphs">Loudest 5,</text>
<text class="s u" x="370.9" y="77.24" font-size="11.0">2</text><text class="s u" x="376.3" y="77.24" font-size="11.6" font-style="italic" textLength="5.7" lengthAdjust="spacingAndGlyphs">σ</text>
<text x="381.9" y="77.24" font-size="10.6">,</text>
<text x="388.6" y="77.24" font-size="10.6" textLength="36.8" lengthAdjust="spacingAndGlyphs">noise 3</text>
<path d="M286.4 89.17 H302.9" stroke="#ff00ff" stroke-width="2.85" fill="none"/>
<text x="312.8" y="92.87" font-size="10.6" textLength="54.6" lengthAdjust="spacingAndGlyphs">Loudest 5,</text>
<text class="s u" x="370.9" y="92.87" font-size="11.0">2</text><text class="s u" x="376.3" y="92.87" font-size="11.6" font-style="italic" textLength="5.7" lengthAdjust="spacingAndGlyphs">σ</text>
<text x="381.9" y="92.87" font-size="10.6">,</text>
<text x="388.6" y="92.87" font-size="10.6" textLength="36.8" lengthAdjust="spacingAndGlyphs">noise 4</text>
<path d="M286.4 104.80 H302.9" stroke="#ff8c00" stroke-width="2.85" fill="none"/>
<text x="312.8" y="108.50" font-size="10.6" textLength="54.6" lengthAdjust="spacingAndGlyphs">Loudest 5,</text>
<text class="s u" x="370.9" y="108.50" font-size="11.0">2</text><text class="s u" x="376.3" y="108.50" font-size="11.6" font-style="italic" textLength="5.7" lengthAdjust="spacingAndGlyphs">σ</text>
<text x="381.9" y="108.50" font-size="10.6">,</text>
<text x="388.6" y="108.50" font-size="10.6" textLength="36.8" lengthAdjust="spacingAndGlyphs">noise 5</text>
<path d="M286.4 120.43 H302.9" stroke="#000" stroke-width="2.85" fill="none"/>
<text x="312.8" y="124.13" font-size="10.6" textLength="58.4" lengthAdjust="spacingAndGlyphs">Fit to MPA1</text>
</svg></body></html>
